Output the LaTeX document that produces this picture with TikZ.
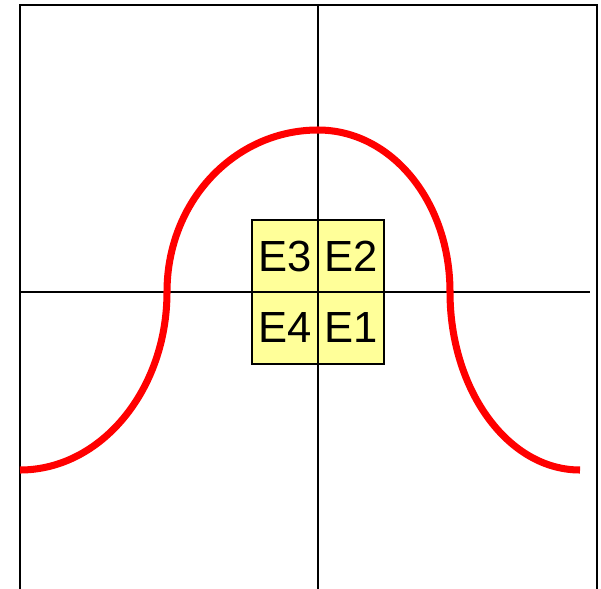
\documentclass[tikz,border=0pt]{standalone}
\usepackage{fontspec}
\setmainfont{Liberation Sans}
\usepackage{tikz}
\definecolor{cellyellow}{RGB}{255,255,153}
\definecolor{curvered}{RGB}{255,0,0}

\begin{document}
\begin{tikzpicture}[x=0.5mm,y=-0.5mm,
    cell/.style={draw=black,line width=2.4pt,fill=cellyellow,inner sep=0pt,
      outer sep=0pt,minimum width=33mm,minimum height=36mm,
      font=\fontsize{62}{62}\selectfont}]
    \useasboundingbox (0,0) rectangle (601,589);
    % frame and axes
    \draw[line width=2.8pt] (20,589) -- (20,5) -- (597,5) -- (597,589);
    \draw[line width=2pt] (20,292) -- (590,292);
    \draw[line width=2pt] (318,5) -- (318,589);
    % curve
    \draw[curvered,line width=10pt] (20,470)
      .. controls (101,470) and (167,390) .. (167,292)
      .. controls (167,201) and (235,130) .. (318,130)
      .. controls (391,130) and (450,201) .. (450,292)
      .. controls (450,390) and (508,470) .. (580,470);
    % cells
    \coordinate (o) at (318,292);
    \node[cell,anchor=south east] (e3) at (o) {E3};
    \node[cell,anchor=south west] (e2) at (o) {E2};
    \node[cell,anchor=north east] (e4) at (o) {E4};
    \node[cell,anchor=north west] (e1) at (o) {E1};
  \end{tikzpicture}
\end{document}
